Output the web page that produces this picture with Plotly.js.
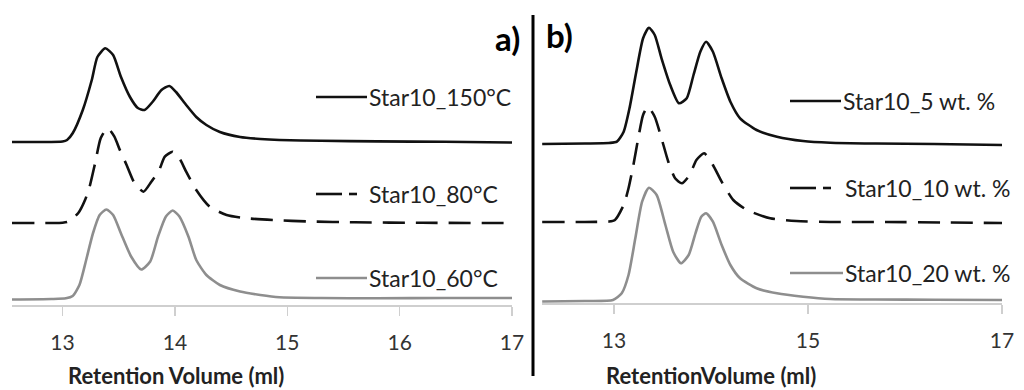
<!DOCTYPE html>
<html>
<head>
<meta charset="utf-8">
<script src="https://cdn.plot.ly/plotly-3.0.1.min.js"></script>
<style>html,body{margin:0;padding:0;background:#fff;}#chart{width:1024px;height:390px;}</style>
</head>
<body>
<div id="chart"></div>
<script>
// ---- Panel a) : temperature series (retention volume, ml ; detector signal, arbitrary units) ----
const xT150 = [12.55, 12.8, 13.0, 13.04, 13.09, 13.18, 13.26, 13.31, 13.38, 13.45, 13.52, 13.60, 13.67, 13.73, 13.80, 13.88, 13.95, 14.01, 14.10, 14.19, 14.28, 14.40, 14.58, 14.76, 14.93, 15.3, 15.8, 16.4, 17.0];
const yT150 = [0, 0, 0.5, 2, 8.7, 32, 62, 85, 93.7, 87, 65, 45, 34, 32, 40, 52, 56, 50, 37, 25, 17, 10, 5, 3, 2, 1.2, 0.6, 0.2, -0.5];

const xT80 = [12.55, 12.9, 13.0, 13.05, 13.14, 13.20, 13.24, 13.29, 13.34, 13.40, 13.46, 13.51, 13.57, 13.64, 13.72, 13.79, 13.86, 13.91, 13.98, 14.04, 14.10, 14.19, 14.31, 14.46, 14.64, 14.87, 15.2, 15.6, 16.2, 17.0];
const yT80 = [0, 0, 0.3, 1.3, 10, 23, 36, 60, 85, 95, 86.6, 73, 58, 40, 31.3, 41.3, 53, 66.3, 71.3, 64.7, 51.3, 33, 16.3, 8, 4.7, 3, 1.5, 0.7, 0.2, 0];

const xT60 = [12.55, 12.9, 13.03, 13.09, 13.15, 13.21, 13.27, 13.33, 13.39, 13.45, 13.52, 13.61, 13.70, 13.78, 13.85, 13.92, 13.98, 14.04, 14.12, 14.19, 14.28, 14.40, 14.58, 14.76, 14.93, 15.3, 15.8, 16.4, 17.0];
const yT60 = [0, 0.5, 1.2, 3.5, 14.5, 39.5, 66, 84.5, 90, 84.5, 66, 43, 30, 38, 63, 83, 89, 83, 63, 39.5, 24.5, 14.5, 8, 4.5, 2.2, 1.5, 1.2, 1.5, 1.5];

// ---- Panel b) : concentration series ----
const xC5 = [12.26, 12.7, 12.95, 13.03, 13.10, 13.16, 13.23, 13.30, 13.36, 13.42, 13.49, 13.58, 13.67, 13.75, 13.82, 13.89, 13.95, 14.02, 14.11, 14.20, 14.30, 14.47, 14.68, 14.95, 15.23, 15.7, 16.3, 17.0];
const yC5 = [0, 0.5, 1, 2.3, 12.3, 35.7, 72.3, 105.7, 116.3, 109, 85.7, 59, 40.7, 45.7, 69, 92.3, 102.3, 92.3, 65.7, 42.3, 25.7, 14, 7.3, 3, 1.3, 0.5, 0, -1];

const xC10 = [12.26, 12.7, 12.95, 13.01, 13.10, 13.15, 13.20, 13.25, 13.30, 13.35, 13.42, 13.49, 13.56, 13.63, 13.70, 13.78, 13.85, 13.93, 14.02, 14.11, 14.23, 14.37, 14.61, 14.88, 15.23, 15.8, 16.4, 17.0];
const yC10 = [0, 0, 0.5, 2, 17, 33.7, 57, 83.7, 107, 115.3, 105.3, 83.7, 60.3, 43.7, 38.7, 47, 62, 68.7, 57, 40.3, 22, 12, 3.7, 1, 0, 0, -0.5, -1];

const xC20 = [12.26, 12.7, 12.99, 13.08, 13.15, 13.22, 13.29, 13.36, 13.44, 13.53, 13.61, 13.69, 13.77, 13.84, 13.90, 13.95, 14.02, 14.11, 14.20, 14.30, 14.47, 14.68, 14.95, 15.23, 15.7, 16.3, 17.0];
const yC20 = [0, 0.5, 1.5, 8.2, 26.5, 63.2, 99.8, 113.8, 106.5, 76.5, 49.8, 38.2, 46.5, 68.2, 84.8, 88.2, 79.8, 56.5, 36.5, 23.2, 13.2, 8.2, 4.8, 2.5, 2, 1.8, 1.5];

const namesA = ["Star10_150°C", "Star10_80°C", "Star10_60°C"];
const namesB = ["Star10_5 wt. %", "Star10_10 wt. %", "Star10_20 wt. %"];
const ticksA = [13, 14, 15, 16, 17];
const ticksB = [13, 15, 17];
const xTitleA = "Retention Volume (ml)";
const xTitleB = "RetentionVolume (ml)";

// ---- presentation ----
const FONT = "Lato, 'Open Sans', sans-serif";
const W = 1024, MT = 10, MB = 85, PH = 390 - MT - MB;
const PX = p => p / W;
const PY = p => (390 - MB - p) / PH;

// vertical stacking offsets (display only)
const offA = [163, 82, 5.5];
const offB = [159, 81, 1.5];
const shift = (arr, o) => arr.map(v => v + o);

const black = "#111111", gray = "#8e8e8e";
const dashPat = "22px,11px";
const styles = [
  {color: black, width: 2.6, dash: "solid"},
  {color: black, width: 2.6, dash: dashPat},
  {color: gray, width: 2.6, dash: "solid"}
];

function tr(x, y, off, st, xa, ya) {
  return {x: x, y: shift(y, off), xaxis: xa, yaxis: ya, type: "scatter", mode: "lines",
    line: {color: st.color, width: st.width, dash: st.dash, shape: "spline", smoothing: 0.6},
    hoverinfo: "skip", showlegend: false};
}

const data = [
  tr(xT150, yT150, offA[0], styles[0], "x", "y"),
  tr(xT80, yT80, offA[1], styles[1], "x", "y"),
  tr(xT60, yT60, offA[2], styles[2], "x", "y"),
  tr(xC5, yC5, offB[0], styles[0], "x2", "y2"),
  tr(xC10, yC10, offB[1], styles[1], "x2", "y2"),
  tr(xC20, yC20, offB[2], styles[2], "x2", "y2")
];

const axisCommon = {
  showgrid: false, zeroline: false, showline: true, linecolor: "#cfcfcf", linewidth: 1.5,
  ticks: "outside", ticklen: 9, tickwidth: 1.5, tickcolor: "#cfcfcf",
  tickfont: {family: FONT, size: 21, color: "#333"}, ticklabelstandoff: 9,
  fixedrange: true
};

const layout = {
  width: 1024, height: 390,
  margin: {l: 0, r: 0, t: MT, b: MB, pad: 0},
  paper_bgcolor: "#fff", plot_bgcolor: "#fff",
  showlegend: false,
  xaxis: Object.assign({}, axisCommon, {domain: [PX(12), PX(512)], range: [12.55, 17], tickmode: "array", tickvals: ticksA, ticktext: ticksA.map(String), anchor: "y"}),
  xaxis2: Object.assign({}, axisCommon, {domain: [PX(542), PX(1002)], range: [12.258, 17], tickmode: "array", tickvals: ticksB, ticktext: ticksB.map(String), anchor: "y2"}),
  yaxis: {domain: [0, 1], range: [0, 295], visible: false, fixedrange: true, anchor: "x"},
  yaxis2: {domain: [2 / PH, 1], range: [0, 293], visible: false, fixedrange: true, anchor: "x2"},
  shapes: [],
  annotations: []
};

// divider between panels
layout.shapes.push({type: "line", xref: "paper", yref: "paper", x0: PX(533), x1: PX(533), y0: PY(15), y1: PY(376), line: {color: "#000", width: 3}});

// inline legend entries
const legA = [{y: 97, x0: 316, x1: 367, tx: 367}, {y: 194, x0: 316, x1: 367, tx: 367}, {y: 278, x0: 316, x1: 367, tx: 367}];
const legB = [{y: 101, x0: 790, x1: 841, tx: 841}, {y: 188, x0: 790, x1: 843, tx: 843}, {y: 273, x0: 790, x1: 843, tx: 843}];
function addLegend(entries, names) {
  entries.forEach((e, i) => {
    const st = styles[i];
    if (st.dash === "solid") {
      layout.shapes.push({type: "line", xref: "paper", yref: "paper", x0: PX(e.x0), x1: PX(e.x1), y0: PY(e.y), y1: PY(e.y), line: {color: st.color, width: st.width}});
    } else {
      layout.shapes.push({type: "line", xref: "paper", yref: "paper", x0: PX(e.x0), x1: PX(e.x0 + 26), y0: PY(e.y), y1: PY(e.y), line: {color: st.color, width: st.width}});
      layout.shapes.push({type: "line", xref: "paper", yref: "paper", x0: PX(e.x0 + 33), x1: PX(e.x0 + 41), y0: PY(e.y), y1: PY(e.y), line: {color: st.color, width: st.width}});
    }
    layout.annotations.push({xref: "paper", yref: "paper", x: PX(e.tx), y: PY(e.y), xanchor: "left", yanchor: "middle", showarrow: false, text: names[i], font: {family: FONT, size: 23, color: "#222"}});
  });
}
addLegend(legA, namesA);
addLegend(legB, namesB);

// panel labels
layout.annotations.push({xref: "paper", yref: "paper", x: PX(522), y: PY(38), xanchor: "right", yanchor: "middle", showarrow: false, text: "<b>a)</b>", font: {family: FONT, size: 33, color: "#000"}});
layout.annotations.push({xref: "paper", yref: "paper", x: PX(544), y: PY(35), xanchor: "left", yanchor: "middle", showarrow: false, text: "<b>b)</b>", font: {family: FONT, size: 33, color: "#000"}});

// axis titles
layout.annotations.push({xref: "paper", yref: "paper", x: PX(176), y: PY(375), xanchor: "center", yanchor: "middle", showarrow: false, text: "<b>" + xTitleA + "</b>", font: {family: FONT, size: 22, color: "#222"}});
layout.annotations.push({xref: "paper", yref: "paper", x: PX(711), y: PY(375), xanchor: "center", yanchor: "middle", showarrow: false, text: "<b>" + xTitleB + "</b>", font: {family: FONT, size: 22, color: "#222"}});

Plotly.newPlot("chart", data, layout, {staticPlot: true, displayModeBar: false});
</script>
</body>
</html>
